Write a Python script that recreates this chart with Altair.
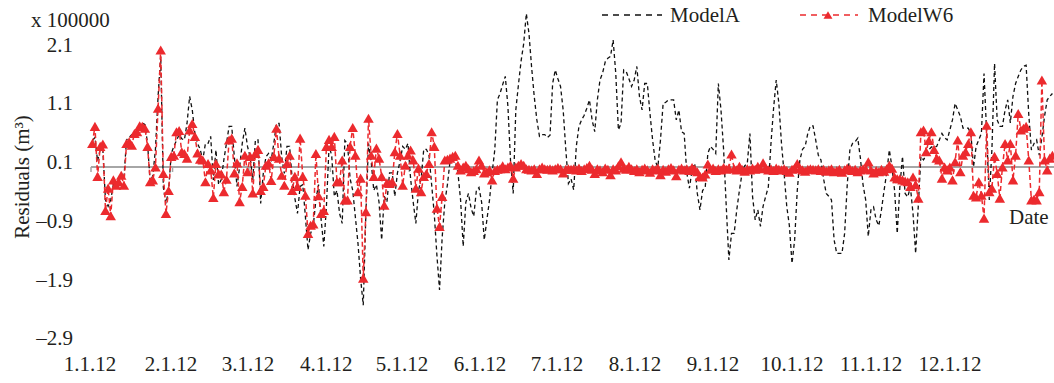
import altair as alt
import pandas as pd

FONT = "Liberation Serif"
TXT = "#231F20"
RED = "#EC2A2E"

# ---- data (residuals x 100000 m^3), one value per day index ----
model_a = [
    .45, .50, .10, .30, .30, -.56, -.67, -.56, -.30, -.28,
    -.25, -.15, -.20, .46, .50, .55, .55, .60, .68, .75,
    .72, .40, -.25, -.15, .30, 1.20, 1.88, -.35, -.62, -.40,
    .23, .35, .45, .55, .48, .46, .74, 1.20, .97, .57,
    .40, .30, .12, .40, .40, .52, -.22, .29, -.30, -.22,
    .12, .40, .69, .69, .17, -.33, 0, .40, .66, .35,
    .17, -.22, .46, .46, -.62, -.11, .17, .23, .12, .40,
    .74, .74, .17, -.11, .35, .35, -.22, -.53, -.79, -.33,
    -.30, -.84, -1.41, -1.13, -1.0, -.56, -.30, -.90, -1.35, -.67,
    .35,
    .2, -.5, -.4, -.79, -.96, .45, .4, -.2, -.4, -.85,
    -1.3, -1.9, -2.35, -.8, .4, .1, -.4, -.3, -.6, -1.24,
    -.5, -.6, -.1, -.1, -.5, -.1, .1, .35, .3, .40,
    -.2, -.6, -.96, -.4, -.2, .3, .3, .2, -.3, -.8,
    -1.5, -2.09, -1.2, -.6, -.3, .1, .2, .1, -.1, -.56,
    -1.35, -.6, -.45, -.7, -.84, -.4, -.35, -.6, -1.24, -.9,
    -.56, -.1, .29, 1.14, 1.25, 1.4, 1.54, 1.03, .1, -.45,
    .97, 1.4, 1.8, 2.1, 2.61, 2.27, 1.7, 1.2, .80, .52,
    .55, .55, .5, .54, 1.42, 1.65, 1.5, 1.37, .97, .3,
    -.28,
    -.2, -.39, .35, .69, .8, .88, 1.0, 1.14, .8, .6,
    1.14, 1.48, 1.6, 1.79, 1.85, 1.88, 2.16, 1.59, .63, .74,
    1.65, 1.62, 1.5, 1.37, 1.48, 1.71, 1.2, .97, 1.42, 1.42,
    .91, .46, .1, 0, .46, 1.08, 1.1, 1.14, 1.14, 1.14,
    .8, .97, .6, .57, -.1, -.36, -.05, .06, -.45, -.73,
    -.4, -.35, .23, .35, .3, .23, 1.42, .97, .29, -.67,
    -1.58, -1.13, -1.13, -.73, -.4, -.11, .02, .06, .57, -.5,
    -.9, -.73, -1.01, -.67, -.5, -.34, .4, 1.0, 1.48, 1.08,
    .4, -.11, -.67, -1.0, -1.64, -1.24, -.4, .12, .3, .35,
    .57, .7,
    .7, .46, .2, .12, -.2, -.45, -.5, -.56, -1.24, -1.47,
    -1.47, -1.47, -1.13, -.3, .29, .4, .43, .49, .15, -.3,
    -.56, -1.18, -.73, -.68, -.9, -1.0, -.73, -.4, -.1, .29,
    0, -.4, -1.13, -.34, .18, -.45, -.51, -.34, -.79, -1.47,
    -.67, .18, .12, .2, .29, .34, .34, .35, .46, .57,
    .5, .46, .63, .8, 1.08, .97, .86, .66, .66, .66,
    .57, 0, .35, .46, .57, 1.59, .57, -.56, .3, 1.76,
    .8, .69, .69, .97, 1.14, .75, 1.2, 1.42, 1.54, 1.65,
    1.71, 1.73, .9, .29, .4, .46, .2, .5, .86, 1.14,
    1.2, 1.25,
]

model_w6 = [
    .40, .69, -.16, .35, .39, -.74, -.36, -.83, -.22, -.31,
    -.25, -.14, -.31, .40, .43, .37, .57, .60, .70, .69,
    .66, .35, -.25, -.22, 0, 1.0, 1.99, -.11, -.79, -.40,
    .18, .20, .60, .62, .26, .23, .15, .63, .74, .52,
    .24, .13, .12, -.25, .06, -.05, -.52, .06, -.11, -.12,
    -.42, -.21, .46, .49, -.10, .07, -.59, -.33, .20, -.08,
    .18, -.44, .23, .30, -.40, -.33, .03, .07, -.23, .18,
    .66, .15, -.14, -.31, .06, .20, -.40, -.16, -.33, .49,
    -.16, -.48, -1.13, -.99, -.97, .23, -.49, -.79, -.74, .35,
    .47,
    .35, .52, -.25, -.25, .12, -.56, -.56, .35, .67, .20,
    -.42, -.19, -1.89, -.76, .83, .20, -.16, .32, .15, -.16,
    -.65, -.27, -.28, -.25, .26, .57, .20, -.31, .03, .20,
    .29, .12, -.36, -.02, -.42, -.16, -.11, .06, .60, .35,
    -.70, -1.01, -.50, .12, .13, .15, .18, .20, .03, -.05,
    0, .03, -.03, -.08, -.06, -.03, .12, .03, -.10, -.08,
    -.05, -.22, -.06, -.04, -.03, .02, -.03, 0, .03, -.19,
    0, .03, .06, .03, -.03, -.04, -.05, -.03, -.11, -.03,
    0, -.03, -.04, -.03, -.05, -.03, -.01, -.03, -.10, -.04,
    -.03,
    -.04, -.03, -.05, -.02, -.06, -.03, -.01, .03, -.04, -.11,
    -.03, -.05, -.08, -.02, -.04, -.13, -.03, -.05, .02, .09,
    -.02, -.04, .01, -.03, -.06, -.03, -.08, -.04, -.02, -.05,
    -.09, -.03, -.05, -.02, -.13, -.04, -.07, -.03, -.01, -.05,
    -.15, -.04, -.02, -.05, -.03, -.06, -.01, -.04, -.08, -.16,
    -.17, -.12, .05, -.04, -.02, -.06, -.03, -.05, -.01, -.04,
    -.02, .22, -.03, -.05, .01, -.04, -.07, -.03, -.05, -.02,
    -.04, .01, -.03, .07, -.02, -.05, -.03, -.06, -.02, -.04,
    -.05, -.03, -.06, -.09, -.04, -.02, .06, -.03, -.05, -.07,
    -.04, -.03,
    -.04, -.05, -.03, -.06, -.04, -.07, -.05, -.03, -.08, -.06,
    -.04, -.09, -.05, -.02, -.03, -.06, -.04, -.08, -.05, -.03,
    -.04, .09, -.05, -.10, -.06, -.08, -.04, -.07, -.03, .03,
    -.02, -.17, -.20, -.20, -.22, -.24, -.25, -.33, -.17, -.30,
    -.53, .60, .63, .26, .45, .60, .30, .15, .12, -.19,
    0, -.05, 0, -.22, .09, .46, -.08, .20, .26, .40,
    .60, -.48, -.51, -.25, -.48, -.87, .71, -.42, -.36, .18,
    -.11, -.53, 0, .40, .12, .40, -.22, .20, .91, .63,
    .66, .69, .12, -.56, -.55, -.56, -.42, 1.48, .12, -.05,
    .15, .20,
]

x_labels = ["1.1.12", "2.1.12", "3.1.12", "4.1.12", "5.1.12", "6.1.12",
            "7.1.12", "8.1.12", "9.1.12", "10.1.12", "11.1.12", "12.1.12"]
x_label_pos = [-0.88, 29.9, 59.2, 88.9, 117.7, 147.4, 176.7, 206.3, 236.0, 266.0, 296.1, 326.1]
month_starts = [0, 31, 60, 91, 121, 152, 182, 213, 244, 274, 305, 335]
y_ticks = [-2.9, -1.9, -0.9, 0.1, 1.1, 2.1]
y_tick_labels = ["\u20132.9", "\u20131.9", "\u20130.9", "0.1", "1.1", "2.1"]

n = min(len(model_a), len(model_w6))
df = pd.DataFrame({"i": list(range(n)), "a": model_a[:n], "w": model_w6[:n]})
lab_df = pd.DataFrame({"pos": x_label_pos, "lab": x_labels})
ylab_df = pd.DataFrame({"v": y_ticks, "lab": y_tick_labels})
tick_df = pd.DataFrame({"m": [d - 0.5 for d in month_starts], "y0": [0.0] * 12, "y1": [-0.085] * 12})
one = pd.DataFrame({"k": [0]})

xs = alt.Scale(domain=[-0.5, 365.6], nice=False, zero=False)
ys = alt.Scale(domain=[-2.96, 2.84], nice=False, zero=False)


def Y(field):
    return alt.Y(field, scale=ys, axis=None)


def X(field):
    return alt.X(field, scale=xs, axis=None)


zero_line = alt.Chart(pd.DataFrame({"y": [0.0]})).mark_rule(color="#A6A6A6", strokeWidth=2).encode(
    y=Y("y:Q"))

ticks = alt.Chart(tick_df).mark_rule(color="#A6A6A6", strokeWidth=1.5).encode(
    x=X("m:Q"), y=Y("y0:Q"), y2="y1:Q")

line_a = alt.Chart(df).mark_line(color="#111111", strokeWidth=1.3, strokeDash=[4, 3]).encode(
    x=X("i:Q"), y=Y("a:Q"))

line_w = alt.Chart(df).mark_line(color=RED, strokeWidth=1.5, strokeDash=[5, 3]).encode(
    x=X("i:Q"), y=Y("w:Q"))

pts_w = alt.Chart(df).mark_point(shape="triangle-up", filled=True, size=110, color=RED, opacity=1).encode(
    x=X("i:Q"), y=Y("w:Q"))

xlab = alt.Chart(lab_df).mark_text(font=FONT, fontSize=21, color=TXT, align="center", baseline="middle").encode(
    x=X("pos:Q"), y=alt.value(365), text="lab:N")

ylab = alt.Chart(ylab_df).mark_text(font=FONT, fontSize=21, color=TXT, align="right", baseline="middle", dy=2).encode(
    x=alt.value(-18), y=Y("v:Q"), text="lab:N")


def txt(s, x, y, align="left", angle=0):
    kw = dict(font=FONT, fontSize=21, color=TXT, align=align, baseline="middle")
    if angle:
        kw["angle"] = angle
    return alt.Chart(one).mark_text(text=s, **kw).encode(x=alt.value(x), y=alt.value(y))


unit_t = txt("x 100000", -60, 21)
ytitle = txt("Residuals (m³)", -68, 177, align="center", angle=270)
date_t = txt("Date", 918, 218)
leg_a_t = txt("ModelA", 579, 16)
leg_w_t = txt("ModelW6", 777, 16)

leg_a_l = alt.Chart(one).mark_rule(color="#111111", strokeWidth=1.3, strokeDash=[6, 5]).encode(
    x=alt.value(511), x2=alt.value(571), y=alt.value(15))
leg_w_l = alt.Chart(one).mark_rule(color=RED, strokeWidth=1.5, strokeDash=[6, 5]).encode(
    x=alt.value(709), x2=alt.value(767), y=alt.value(15))
leg_w_p = alt.Chart(one).mark_point(shape="triangle-up", filled=True, size=80, color=RED, opacity=1).encode(
    x=alt.value(737), y=alt.value(15))

chart = alt.layer(
    zero_line, ticks, line_a, line_w, pts_w, xlab, ylab,
    unit_t, ytitle, date_t, leg_a_l, leg_a_t, leg_w_l, leg_w_p, leg_w_t
).properties(
    width=963, height=341,
    padding={"left": 91, "top": 0, "right": 0, "bottom": 42},
    autosize=alt.AutoSizeParams(type="none"),
    background="white",
).configure_view(stroke=None)

chart.save("out.html", embed_options={"renderer": "svg", "actions": False})
